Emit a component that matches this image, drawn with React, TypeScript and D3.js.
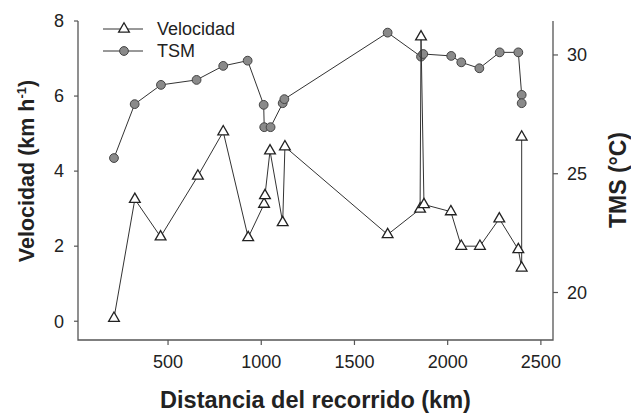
import * as d3 from 'd3';

// Distancia del recorrido (km) y velocidad (km h-1)
const velDist = [210, 322, 460, 660, 796, 930, 1015, 1020, 1047, 1115, 1127, 1678, 1852, 1857, 1873, 2017, 2073, 2173, 2277, 2379, 2397, 2397];
const velValues = [0.08, 3.25, 2.25, 3.87, 5.05, 2.23, 3.12, 3.35, 4.54, 2.63, 4.65, 2.31, 2.99, 7.58, 3.11, 2.92, 2.0, 2.0, 2.73, 1.91, 1.42, 4.91];

// Temperatura superficial del mar (°C)
const tsmDist = [210, 321, 462, 653, 796, 927, 1013, 1016, 1050, 1115, 1124, 1678, 1857, 1869, 2019, 2073, 2170, 2279, 2379, 2397, 2397];
const tsmValues = [25.66, 27.93, 28.74, 28.95, 29.54, 29.76, 27.9, 26.96, 26.96, 27.97, 28.14, 30.94, 29.93, 30.04, 29.96, 29.69, 29.44, 30.11, 30.11, 28.32, 27.97];

const xTicks = [500, 1000, 1500, 2000, 2500];
const velTicks = [0, 2, 4, 6, 8];
const tsmTicks = [20, 25, 30];

const W = 631;
const H = 413;
const left = 78;
const right = 553;
const top = 21;
const bottom = 340;
const font = "'Liberation Sans', Arial, sans-serif";
const ink = '#222';
const axisCol = '#555';

export default function App() {
  const x = d3.scaleLinear().domain([17, 2565]).range([left, right]);
  const yVel = d3.scaleLinear().domain([-0.5, 8]).range([bottom, top]);
  const yTsm = d3.scaleLinear().domain([18, 31.43]).range([bottom, top]);

  const velPts = velDist.map((d, i) => [x(d), yVel(velValues[i])] as [number, number]);
  const tsmPts = tsmDist.map((d, i) => [x(d), yTsm(tsmValues[i])] as [number, number]);
  const line = d3.line();
  const tri = d3.symbol(d3.symbolTriangle, 50)() as string;

  return (
    <svg width={W} height={H} style={{ position: 'absolute', left: 0, top: 0 }} fontFamily={font}>
      <rect width={W} height={H} fill="#fff" />

      {/* ejes */}
      <path d={`M${left},${top}V${bottom}H${right}V${top}`} fill="none" stroke={axisCol} strokeWidth={1.3} />
      {velTicks.map(t => (
        <g key={'l' + t}>
          <line x1={left - 4} x2={left} y1={yVel(t)} y2={yVel(t)} stroke={axisCol} strokeWidth={1.2} />
          <text x={64} y={yVel(t)} dy="0.35em" textAnchor="end" fontSize={18} fill={ink}>{t}</text>
        </g>
      ))}
      {xTicks.map(t => (
        <g key={'b' + t}>
          <line x1={x(t)} x2={x(t)} y1={bottom} y2={bottom + 5} stroke={axisCol} strokeWidth={1.2} />
          <text x={x(t)} y={368} textAnchor="middle" fontSize={18} fill={ink}>{t}</text>
        </g>
      ))}
      {tsmTicks.map(t => (
        <g key={'r' + t}>
          <line x1={right} x2={right + 5} y1={yTsm(t)} y2={yTsm(t)} stroke={axisCol} strokeWidth={1.2} />
          <text x={567} y={yTsm(t)} dy="0.35em" textAnchor="start" fontSize={18} fill={ink}>{t}</text>
        </g>
      ))}

      {/* titulos */}
      <text transform="translate(34,171) rotate(-90)" textAnchor="middle" fontSize={21.5} fontWeight="bold" fill={ink}>
        Velocidad (km h<tspan fontSize={13} dy={-8}>-1</tspan><tspan dy={8}>)</tspan>
      </text>
      <text x={(left + right) / 2} y={408} textAnchor="middle" fontSize={23.5} fontWeight="bold" fill={ink}>
        Distancia del recorrido (km)
      </text>
      <text transform="translate(626,180) rotate(-90)" textAnchor="middle" fontSize={23} fontWeight="bold" fill={ink}>
        TMS (°C)
      </text>

      {/* TSM */}
      <path d={line(tsmPts) as string} fill="none" stroke="#333" strokeWidth={1} />
      {tsmPts.map((p, i) => (
        <circle key={'c' + i} cx={p[0]} cy={p[1]} r={4.4} fill="#8a8a8a" stroke="#444" strokeWidth={1} />
      ))}

      {/* Velocidad */}
      <path d={line(velPts) as string} fill="none" stroke="#333" strokeWidth={1} />
      {velPts.map((p, i) => (
        <path key={'t' + i} d={tri} transform={`translate(${p[0]},${p[1]})`} fill="#fff" stroke="#222" strokeWidth={1.3} />
      ))}

      {/* leyenda */}
      <line x1={103} x2={143} y1={29} y2={29} stroke="#333" strokeWidth={1} />
      <path d={tri} transform="translate(124,29)" fill="#fff" stroke="#222" strokeWidth={1.3} />
      <text x={157} y={35} fontSize={18} fill={ink}>Velocidad</text>
      <line x1={103} x2={143} y1={51} y2={51} stroke="#333" strokeWidth={1} />
      <circle cx={124} cy={51} r={4.4} fill="#8a8a8a" stroke="#444" strokeWidth={1} />
      <text x={157} y={57} fontSize={18} fill={ink}>TSM</text>
    </svg>
  );
}
